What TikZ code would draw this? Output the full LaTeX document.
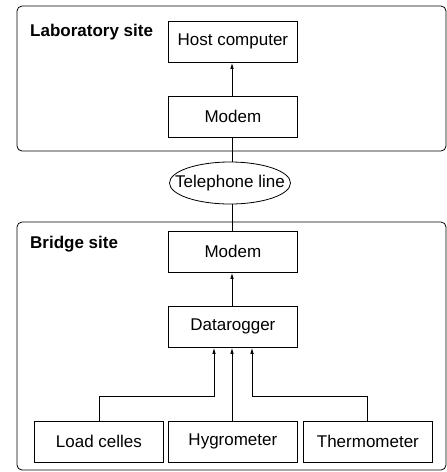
\documentclass[tikz,border=0pt]{standalone}
\usepackage{fontspec}
\setmainfont{Liberation Sans}
\usetikzlibrary{shapes.geometric,arrows.meta}
\begin{document}
\begin{tikzpicture}[x=1pt,y=-1pt,
  every node/.style={font=\fontsize{17}{20}\selectfont},
  box/.style={draw,line width=0.8pt,minimum width=129pt,minimum height=41pt,inner sep=0pt,anchor=north west},
  site/.style={draw,line width=0.8pt,rounded corners=5pt},
  lbl/.style={font=\fontsize{17}{20}\selectfont\bfseries,anchor=west,inner sep=0pt},
  arr/.style={line width=0.8pt,-{Latex[length=6pt,width=3.5pt]}},
  ln/.style={line width=0.8pt}]
\useasboundingbox (0,0) rectangle (447,472);
\draw[site] (17,6) rectangle (446,151);
\draw[site] (17,222) rectangle (446,470);
\node[lbl] (lab) at (30,32) {Laboratory site};
\node[lbl] (brs) at (30,244) {Bridge site};
\node[box] (host) at (168,21) {Host computer};
\node[box] (modem1) at (168,96) {Modem};
\node[draw,ellipse,line width=0.8pt,inner xsep=-14pt,inner ysep=0pt,minimum width=121pt,minimum height=42pt] (tel) at (230,183) {Telephone line};
\node[box] (modem2) at (168,231) {Modem};
\node[box] (dl) at (168,306) {Datarogger};
\node[box] (lc) at (34,421) {Load celles};
\node[box] (hy) at (168,421) {Hygrometer};
\node[box] (th) at (303,421) {Thermometer};
\draw[arr] (modem1.north -| 232,0) -- (host.south -| 232,0);
\draw[ln] (modem1.south -| 232,0) -- (tel.north -| 232,0);
\draw[ln] (tel.south -| 232,0) -- (modem2.north -| 232,0);
\draw[arr] (dl.north -| 232,0) -- (modem2.south -| 232,0);
\draw[arr] (hy.north -| 232,0) -- (dl.south -| 232,0);
\draw[arr] (lc.north -| 99,0) |- (214,396) -- (dl.south -| 214,0);
\draw[arr] (th.north -| 367,0) |- (252,396) -- (dl.south -| 252,0);
\end{tikzpicture}
\end{document}
